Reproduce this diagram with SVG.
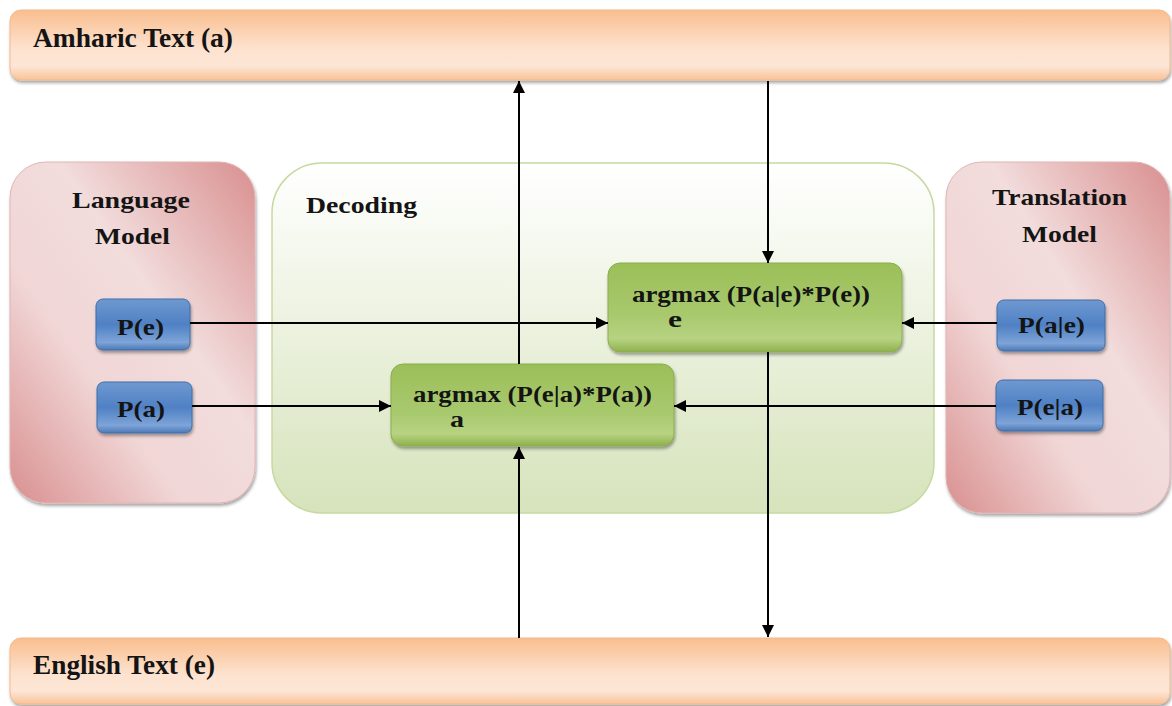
<svg xmlns="http://www.w3.org/2000/svg" width="1172" height="706" viewBox="0 0 1172 706">
<defs>
<linearGradient id="gBar" x1="0" y1="0" x2="0" y2="1">
<stop offset="0" stop-color="#f9be8e"/>
<stop offset="0.55" stop-color="#fde2cf"/>
<stop offset="0.8" stop-color="#fde6d6"/>
<stop offset="1" stop-color="#f8c299"/>
</linearGradient>
<linearGradient id="gPink" x1="0" y1="1" x2="1" y2="0">
<stop offset="0" stop-color="#d98f8f"/>
<stop offset="0.35" stop-color="#f1d6d6"/>
<stop offset="0.6" stop-color="#f2dcdc"/>
<stop offset="1" stop-color="#d98f8f"/>
</linearGradient>
<linearGradient id="gDec" x1="0" y1="0" x2="0" y2="1">
<stop offset="0" stop-color="#ffffff"/>
<stop offset="1" stop-color="#d6e3bb"/>
</linearGradient>
<linearGradient id="gGreen" x1="0" y1="0" x2="0" y2="1">
<stop offset="0" stop-color="#9bbf58"/>
<stop offset="0.6" stop-color="#a9c96e"/>
<stop offset="0.85" stop-color="#b7d382"/>
<stop offset="1" stop-color="#8fb04c"/>
</linearGradient>
<linearGradient id="gBlue" x1="0" y1="0" x2="0" y2="1">
<stop offset="0" stop-color="#6f98d0"/>
<stop offset="0.5" stop-color="#4f81c4"/>
<stop offset="0.85" stop-color="#7ea4d8"/>
<stop offset="1" stop-color="#4a78b6"/>
</linearGradient>
<filter id="sh" x="-10%" y="-10%" width="120%" height="130%">
<feDropShadow dx="1" dy="2.5" stdDeviation="1.5" flood-color="#000" flood-opacity="0.35"/>
</filter>
<marker id="arr" viewBox="0 0 12 12" refX="12" refY="6" markerWidth="12" markerHeight="12" markerUnits="userSpaceOnUse" orient="auto">
<path d="M0,0 L12,6 L0,12 z" fill="#000"/>
</marker>
</defs>
<style>
.bar{fill:url(#gBar);stroke:#f5b98a;stroke-width:1;filter:url(#sh);}
.pink{fill:url(#gPink);stroke:#e2b4b4;stroke-width:1;filter:url(#sh);}
.dec{fill:url(#gDec);stroke:#c6d9a0;stroke-width:1.5;}
.green{fill:url(#gGreen);stroke:#8cad4e;stroke-width:1;filter:url(#sh);}
.blue{fill:url(#gBlue);stroke:#3f6fa8;stroke-width:1;filter:url(#sh);}
.conn{stroke:#000;stroke-width:2;fill:none;marker-end:url(#arr);}
</style>
<rect width="1172" height="706" fill="#fff"/>

<g font-family="'Liberation Serif', 'Times New Roman', serif" font-weight="bold" fill="#141414" font-size="24">
<g id="amharic">
<rect class="bar" x="10" y="10" width="1160" height="70" rx="11"/>
<text x="33" y="47" font-size="27" textLength="200" lengthAdjust="spacingAndGlyphs">Amharic Text (a)</text>
</g>
<g id="english">
<rect class="bar" x="10" y="638" width="1160" height="66" rx="11"/>
<text x="33" y="674" font-size="27" textLength="182" lengthAdjust="spacingAndGlyphs">English Text (e)</text>
</g>

<g id="language-model">
<rect class="pink" x="10" y="162" width="245" height="341" rx="36"/>
<text x="72" y="208" textLength="118" lengthAdjust="spacingAndGlyphs">Language</text>
<text x="95" y="244" textLength="75" lengthAdjust="spacingAndGlyphs">Model</text>
</g>
<g id="decoding">
<rect class="dec" x="272" y="163" width="662" height="350" rx="50"/>
<text x="306" y="213" textLength="111" lengthAdjust="spacingAndGlyphs">Decoding</text>
</g>
<g id="translation-model">
<rect class="pink" x="946" y="162" width="224" height="351" rx="36"/>
<text x="992" y="205" textLength="135" lengthAdjust="spacingAndGlyphs">Translation</text>
<text x="1022" y="242" textLength="75" lengthAdjust="spacingAndGlyphs">Model</text>
</g>

<g id="pe">
<rect class="blue" x="96" y="299" width="94" height="51" rx="7"/>
<text x="117" y="335" textLength="47" lengthAdjust="spacingAndGlyphs">P(e)</text>
</g>
<g id="pa">
<rect class="blue" x="97" y="382" width="95" height="51" rx="7"/>
<text x="117" y="417" textLength="48" lengthAdjust="spacingAndGlyphs">P(a)</text>
</g>
<g id="pae">
<rect class="blue" x="997" y="300" width="108" height="51" rx="7"/>
<text x="1018" y="333" textLength="67" lengthAdjust="spacingAndGlyphs">P(a|e)</text>
</g>
<g id="pea">
<rect class="blue" x="996" y="380" width="107" height="51" rx="7"/>
<text x="1017" y="415" textLength="66" lengthAdjust="spacingAndGlyphs">P(e|a)</text>
</g>

<g id="argmax-e">
<rect class="green" x="608" y="263" width="294" height="89" rx="12"/>
<text x="632" y="302" textLength="238" lengthAdjust="spacingAndGlyphs">argmax (P(a|e)*P(e))</text>
<text x="668" y="327" textLength="14" lengthAdjust="spacingAndGlyphs">e</text>
</g>
<g id="argmax-a">
<rect class="green" x="391" y="364" width="283" height="82" rx="12"/>
<text x="413" y="402" textLength="239" lengthAdjust="spacingAndGlyphs">argmax (P(e|a)*P(a))</text>
<text x="450" y="427" textLength="14" lengthAdjust="spacingAndGlyphs">a</text>
</g>
</g>

<g id="connectors">
<line class="conn" x1="519" y1="364" x2="519" y2="81"/>
<line class="conn" x1="768" y1="81" x2="768" y2="263"/>
<line class="conn" x1="190" y1="323" x2="608" y2="323"/>
<line class="conn" x1="192" y1="406" x2="391" y2="406"/>
<line class="conn" x1="997" y1="323" x2="902" y2="323"/>
<line class="conn" x1="996" y1="406" x2="674" y2="406"/>
<line class="conn" x1="768" y1="352" x2="768" y2="637"/>
<line class="conn" x1="519" y1="638" x2="519" y2="447"/>
</g>
</svg>
